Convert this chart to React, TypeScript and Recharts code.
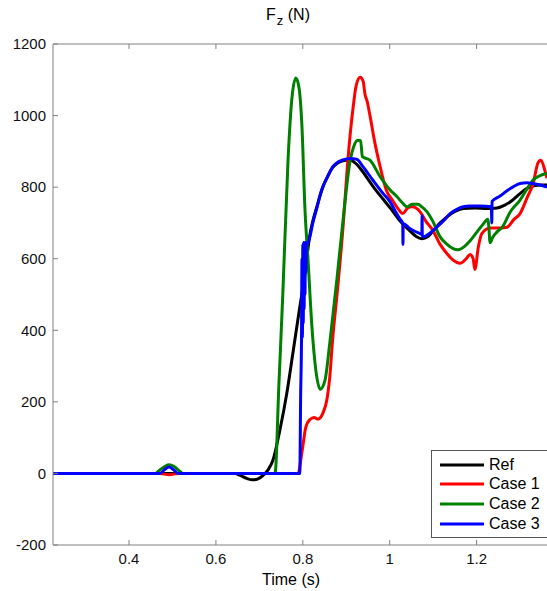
import React from "react";
import { LineChart, Line, XAxis, YAxis } from "recharts";

const xTicks = [0.4, 0.6, 0.8, 1, 1.2];
const yTicks = [-200, 0, 200, 400, 600, 800, 1000, 1200];
const seriesNames = ["Ref", "Case 1", "Case 2", "Case 3"];
const seriesColors = ["#000000", "#ff0000", "#008000", "#0000ff"];

// [time (s), Fz (N)]
const refData: [number, number][] = [
  [0.225, 0], [0.644, 0], [0.655, -5], [0.671, -14], [0.685, -18], [0.697, -15],
  [0.708, -6], [0.72, 10], [0.731, 36], [0.747, 120], [0.763, 223], [0.777, 335],
  [0.793, 465], [0.805, 559], [0.812, 630], [0.816, 665], [0.823, 705], [0.833, 748],
  [0.846, 800], [0.858, 832], [0.869, 855], [0.881, 868], [0.892, 874], [0.908, 876],
  [0.924, 864], [0.938, 843], [0.961, 803], [0.985, 766], [1.001, 742], [1.024, 705],
  [1.047, 677], [1.061, 662], [1.074, 656], [1.088, 662], [1.1, 678], [1.116, 700],
  [1.132, 717], [1.15, 732], [1.169, 740], [1.196, 742], [1.224, 740], [1.247, 742],
  [1.265, 750], [1.281, 762], [1.3, 782], [1.323, 801], [1.346, 806], [1.362, 806],
];

const case1Data: [number, number][] = [
  [0.225, 0], [0.471, 0], [0.492, -4], [0.513, 0], [0.789, 0], [0.798, 60],
  [0.807, 130], [0.816, 150], [0.826, 156], [0.835, 152], [0.846, 168], [0.856, 210],
  [0.862, 269], [0.869, 380], [0.879, 503], [0.892, 680], [0.904, 880], [0.915, 1015],
  [0.923, 1085], [0.932, 1107], [0.939, 1095], [0.943, 1060], [0.948, 1040], [0.955, 997],
  [0.966, 923], [0.978, 857], [0.992, 792], [1.007, 762], [1.019, 740], [1.03, 726],
  [1.04, 740], [1.051, 745], [1.07, 731], [1.083, 705], [1.099, 680], [1.116, 640],
  [1.132, 614], [1.146, 596], [1.162, 587], [1.176, 600], [1.185, 612], [1.192, 600],
  [1.196, 570], [1.204, 633], [1.212, 670], [1.231, 686], [1.254, 686], [1.27, 688],
  [1.286, 710], [1.3, 726], [1.316, 770], [1.33, 810], [1.342, 870], [1.348, 875],
  [1.357, 847], [1.362, 825],
];

const case2Data: [number, number][] = [
  [0.225, 0], [0.46, 0], [0.471, 10], [0.483, 20], [0.492, 24], [0.503, 20],
  [0.515, 8], [0.524, 0], [0.736, 0], [0.745, 250], [0.754, 503], [0.766, 877],
  [0.775, 1050], [0.784, 1105], [0.791, 1080], [0.798, 969], [0.805, 736], [0.812, 596],
  [0.821, 409], [0.83, 288], [0.84, 235], [0.851, 260], [0.862, 364], [0.879, 549],
  [0.895, 736], [0.909, 875], [0.917, 913], [0.927, 931], [0.933, 930], [0.937, 885],
  [0.955, 875], [0.978, 829], [1.001, 792], [1.017, 773], [1.03, 755], [1.04, 745],
  [1.051, 752], [1.065, 752], [1.074, 745], [1.086, 731], [1.099, 705], [1.116, 661],
  [1.132, 640], [1.146, 628], [1.157, 625], [1.173, 635], [1.185, 650], [1.201, 675],
  [1.214, 695], [1.226, 710], [1.228, 690], [1.231, 645], [1.237, 660], [1.247, 675],
  [1.26, 690], [1.277, 730], [1.3, 764], [1.316, 795], [1.33, 820], [1.346, 832],
  [1.362, 838],
];

const case3Data: [number, number][] = [
  [0.225, 0], [0.471, 0], [0.483, 12], [0.492, 18], [0.501, 12], [0.513, 0],
  [0.793, 0], [0.795, 220], [0.797, 380], [0.798, 600], [0.799, 380], [0.8, 640],
  [0.801, 420], [0.802, 645], [0.803, 460], [0.804, 640], [0.805, 500], [0.806, 645],
  [0.807, 560], [0.808, 640], [0.812, 645], [0.816, 660], [0.823, 700], [0.833, 745],
  [0.839, 775], [0.846, 801], [0.858, 832], [0.869, 857], [0.881, 870], [0.892, 876],
  [0.908, 880], [0.924, 878], [0.938, 858], [0.961, 820], [0.985, 782], [1.001, 759],
  [1.014, 730], [1.024, 710], [1.03, 700], [1.0305, 640], [1.031, 698], [1.047, 684],
  [1.07, 670], [1.074, 668], [1.0745, 720], [1.075, 665], [1.077, 661], [1.093, 672],
  [1.109, 689], [1.123, 705], [1.139, 726], [1.155, 738], [1.169, 745], [1.185, 747],
  [1.208, 747], [1.234, 745], [1.235, 700], [1.2355, 760], [1.254, 775], [1.27, 790],
  [1.283, 800], [1.3, 810], [1.316, 812], [1.33, 810], [1.346, 806], [1.362, 800],
];

const allSeries = [refData, case1Data, case2Data, case3Data];

const toRows = (d: [number, number][]) => d.map(([t, v]) => ({ t, v }));

const FONT = "'Liberation Sans', Arial, sans-serif";
const AXIS = "#808080";

export default function App() {
  return (
    <div style={{ position: "relative", width: 547, height: 591, overflow: "hidden", fontFamily: FONT }}>
      <style>{`html,body{margin:0;padding:0;overflow:hidden;}`}</style>
      <div
        style={{
          position: "absolute",
          left: 0,
          width: 576,
          top: 5,
          textAlign: "center",
          fontSize: 16,
          color: "#000",
          lineHeight: "20px",
          zIndex: 2,
        }}
      >
        F<span style={{ fontSize: 13, position: "relative", top: 5, marginLeft: 1 }}>z</span> (N)
      </div>
      <LineChart
        width={547}
        height={591}
        margin={{ top: 14, right: 0, left: 0, bottom: 0 }}
      >
        <XAxis
          xAxisId="top"
          orientation="top"
          dataKey="t"
          type="number"
          domain={[0.225, 1.362]}
          allowDataOverflow
          ticks={xTicks}
          height={30}
          tickSize={-5}
          tickFormatter={() => ""}
          stroke={AXIS}
          tickLine={{ stroke: AXIS }}
        />
        <XAxis
          xAxisId="bottom"
          orientation="bottom"
          dataKey="t"
          type="number"
          domain={[0.225, 1.362]}
          allowDataOverflow
          ticks={xTicks}
          height={46}
          tickSize={-5}
          tickMargin={13}
          stroke={AXIS}
          tickLine={{ stroke: AXIS }}
          tick={{ fill: "#111", fontSize: 15, fontFamily: FONT }}
          tickFormatter={(v: number) => String(v)}
          label={{
            value: "Time (s)",
            position: "insideBottom",
            offset: 6,
            dx: -9,
            style: { fill: "#000", fontSize: 16, fontFamily: FONT },
          }}
        />
        <YAxis
          type="number"
          domain={[-200, 1200]}
          ticks={yTicks}
          allowDataOverflow
          width={53}
          tickSize={-5}
          tickMargin={12}
          stroke={AXIS}
          tickLine={{ stroke: AXIS }}
          tick={{ fill: "#111", fontSize: 15, fontFamily: FONT }}
        />
        {allSeries.map((s, i) => (
          <Line
            key={seriesNames[i]}
            xAxisId="bottom"
            data={toRows(s)}
            dataKey="v"
            type="monotoneX"
            stroke={seriesColors[i]}
            strokeWidth={3}
            dot={false}
            activeDot={false}
            isAnimationActive={false}
            strokeLinejoin="round"
          />
        ))}
      </LineChart>
      <div
        style={{
          position: "absolute",
          left: 431,
          top: 450,
          width: 115,
          height: 86,
          border: "1px solid #555",
          background: "#fff",
          fontSize: 16,
          color: "#000",
        }}
      >
        {seriesNames.map((n, i) => (
          <div
            key={n}
            style={{ position: "absolute", left: 8, top: 4 + i * 19.7, height: 19, display: "flex", alignItems: "center" }}
          >
            <svg width={44} height={6} style={{ marginRight: 5 }}>
              <line x1={0} y1={3} x2={44} y2={3} stroke={seriesColors[i]} strokeWidth={3} />
            </svg>
            <span>{n}</span>
          </div>
        ))}
      </div>
    </div>
  );
}
